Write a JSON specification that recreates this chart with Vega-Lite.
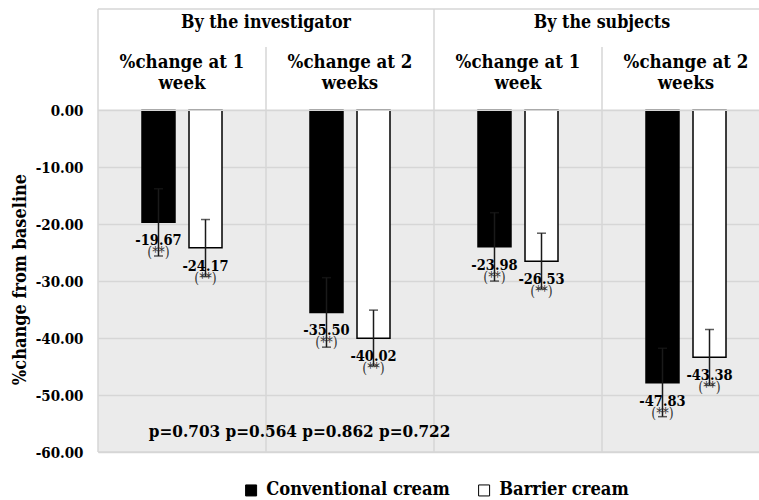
{
  "$schema": "https://vega.github.io/schema/vega-lite/v6.json",
  "width": 661,
  "height": 443,
  "autosize": {"type": "none"},
  "padding": {"left": 98, "top": 9, "right": 0, "bottom": 48},
  "config": {
    "view": {"stroke": null, "fill": "#ebebeb"},
    "font": "DejaVu Serif Condensed",
    "locale": {"number": {"decimal": ".", "thousands": ",", "grouping": [3], "currency": ["$", ""], "minus": "-"}}
  },
  "datasets": {
    "bars": [
      {"panel": "Investigator, 1 week", "cream": "Conventional cream", "value": -19.67, "lo": -25.6, "hi": -13.8, "sig": "(**)"},
      {"panel": "Investigator, 1 week", "cream": "Barrier cream", "value": -24.17, "lo": -29.2, "hi": -19.2, "sig": "(**)"},
      {"panel": "Investigator, 2 weeks", "cream": "Conventional cream", "value": -35.50, "lo": -41.6, "hi": -29.4, "sig": "(**)"},
      {"panel": "Investigator, 2 weeks", "cream": "Barrier cream", "value": -40.02, "lo": -44.9, "hi": -35.1, "sig": "(**)"},
      {"panel": "Subjects, 1 week", "cream": "Conventional cream", "value": -23.98, "lo": -30.0, "hi": -18.0, "sig": "(**)"},
      {"panel": "Subjects, 1 week", "cream": "Barrier cream", "value": -26.53, "lo": -31.4, "hi": -21.6, "sig": "(**)"},
      {"panel": "Subjects, 2 weeks", "cream": "Conventional cream", "value": -47.83, "lo": -53.8, "hi": -41.8, "sig": "(**)"},
      {"panel": "Subjects, 2 weeks", "cream": "Barrier cream", "value": -43.38, "lo": -48.3, "hi": -38.5, "sig": "(**)"}
    ],
    "panels": [
      {"panel": "Investigator, 1 week", "header": "%change at 1\nweek"},
      {"panel": "Investigator, 2 weeks", "header": "%change at 2\nweeks"},
      {"panel": "Subjects, 1 week", "header": "%change at 1\nweek"},
      {"panel": "Subjects, 2 weeks", "header": "%change at 2\nweeks"}
    ],
    "raters": [
      {"panel": "Investigator, 1 week", "rater": "By the investigator"},
      {"panel": "Subjects, 1 week", "rater": "By the subjects"}
    ],
    "notes": [
      {"panel": "Investigator, 2 weeks", "note": "p=0.703 p=0.564 p=0.862 p=0.722"}
    ]
  },
  "data": {"name": "bars"},
  "layer": [
    {
      "data": {"values": [{}]},
      "mark": {"type": "rect", "fill": "#ffffff"},
      "encoding": {
        "y": {"datum": 0, "type": "quantitative", "title": "%change from baseline",
          "scale": {"domain": [-60, 17.75], "nice": false, "zero": false},
          "axis": {"values": [-60, -50, -40, -30, -20, -10, 0], "format": ".2f", "domain": false, "ticks": false,
            "labelFont": "DejaVu Serif Condensed", "labelFontSize": 15, "labelFontWeight": "bold", "labelColor": "#000000", "labelPadding": 15,
            "grid": true, "gridColor": "#d6d6d6", "gridWidth": 1.5,
            "titleFont": "DejaVu Serif Condensed", "titleFontSize": 18, "titleFontWeight": "bold", "titleColor": "#000000",
            "titleX": -78, "titleY": 270, "titleAlign": "center", "titleBaseline": "middle", "titleAngle": -90}},
        "y2": {"datum": 17.75}
      }
    },
    {
      "mark": {"type": "bar", "stroke": "#000000", "strokeWidth": 1.5},
      "encoding": {
        "x": {"field": "panel", "type": "nominal", "axis": null, "sort": null,
          "scale": {"domain": ["Investigator, 1 week", "Investigator, 2 weeks", "Subjects, 1 week", "Subjects, 2 weeks"], "range": [0, 672], "paddingInner": 0, "paddingOuter": 0}},
        "xOffset": {"field": "cream", "type": "nominal",
          "scale": {"domain": ["Conventional cream", "Barrier cream"], "paddingInner": 0.298, "paddingOuter": 0.936}},
        "y": {"field": "value", "type": "quantitative", "title": "%change from baseline"},
        "color": {"field": "cream", "type": "nominal",
          "scale": {"domain": ["Conventional cream", "Barrier cream"], "range": ["#000000", "#ffffff"]},
          "legend": {"orient": "none", "legendX": 144, "legendY": 472, "direction": "horizontal", "title": null,
            "symbolType": "square", "symbolSize": 121, "symbolStrokeColor": "#000000", "symbolStrokeWidth": 1, "symbolOpacity": 1,
            "labelFont": "DejaVu Serif Condensed", "labelFontSize": 18.2, "labelFontWeight": "bold", "labelColor": "#000000",
            "labelLimit": 400, "columnPadding": 25, "labelOffset": 6, "padding": 0}}
      }
    },
    {
      "mark": {"type": "rule", "color": "#1a1a1a", "strokeWidth": 1.5},
      "encoding": {
        "x": {"field": "panel", "type": "nominal"},
        "xOffset": {"field": "cream", "type": "nominal"},
        "y": {"field": "lo", "type": "quantitative", "title": "%change from baseline"},
        "y2": {"field": "hi"}
      }
    },
    {
      "mark": {"type": "tick", "color": "#1a1a1a", "size": 9, "thickness": 1.5},
      "encoding": {
        "x": {"field": "panel", "type": "nominal"},
        "xOffset": {"field": "cream", "type": "nominal"},
        "y": {"field": "lo", "type": "quantitative", "title": "%change from baseline"}
      }
    },
    {
      "mark": {"type": "tick", "color": "#1a1a1a", "size": 9, "thickness": 1.5},
      "encoding": {
        "x": {"field": "panel", "type": "nominal"},
        "xOffset": {"field": "cream", "type": "nominal"},
        "y": {"field": "hi", "type": "quantitative", "title": "%change from baseline"}
      }
    },
    {
      "mark": {"type": "text", "font": "DejaVu Serif Condensed", "fontSize": 14.5, "fontWeight": "bold", "color": "#000000", "baseline": "middle", "dy": 19},
      "encoding": {
        "x": {"field": "panel", "type": "nominal"},
        "xOffset": {"field": "cream", "type": "nominal"},
        "y": {"field": "value", "type": "quantitative", "title": "%change from baseline"},
        "text": {"field": "value", "type": "quantitative", "format": ".2f"}
      }
    },
    {
      "mark": {"type": "text", "font": "DejaVu Serif Condensed", "fontSize": 14, "color": "#333333", "baseline": "middle", "dy": 31},
      "encoding": {
        "x": {"field": "panel", "type": "nominal"},
        "xOffset": {"field": "cream", "type": "nominal"},
        "y": {"field": "value", "type": "quantitative", "title": "%change from baseline"},
        "text": {"field": "sig", "type": "nominal"}
      }
    },
    {
      "data": {"name": "raters"},
      "mark": {"type": "rule", "color": "#d6d6d6", "strokeWidth": 1.5},
      "encoding": {
        "x": {"field": "panel", "type": "nominal", "bandPosition": 1},
        "y": {"datum": -60, "type": "quantitative", "title": "%change from baseline"},
        "y2": {"datum": 11.06}
      }
    },
    {
      "data": {"name": "raters"},
      "mark": {"type": "rule", "color": "#d6d6d6", "strokeWidth": 1.5},
      "encoding": {
        "x": {"field": "panel", "type": "nominal", "bandPosition": 0},
        "y": {"datum": -60, "type": "quantitative", "title": "%change from baseline"},
        "y2": {"datum": 17.75}
      }
    },
    {
      "data": {"values": [{}]},
      "mark": {"type": "rule", "color": "#d6d6d6", "strokeWidth": 1.5},
      "encoding": {"y": {"datum": 17.75, "type": "quantitative", "title": "%change from baseline"}}
    },
    {
      "data": {"values": [{}]},
      "mark": {"type": "rule", "color": "#d6d6d6", "strokeWidth": 1.5},
      "encoding": {"y": {"datum": 0, "type": "quantitative", "title": "%change from baseline"}}
    },
    {
      "data": {"values": [{}]},
      "mark": {"type": "rule", "color": "#d6d6d6", "strokeWidth": 1.5},
      "encoding": {"y": {"datum": -60, "type": "quantitative", "title": "%change from baseline"}}
    },
    {
      "data": {"name": "raters"},
      "mark": {"type": "text", "font": "DejaVu Serif Condensed", "fontSize": 17.7, "fontWeight": "bold", "color": "#000000", "baseline": "middle"},
      "encoding": {
        "x": {"field": "panel", "type": "nominal", "bandPosition": 1},
        "y": {"datum": 15.3, "type": "quantitative", "title": "%change from baseline"},
        "text": {"field": "rater", "type": "nominal"}
      }
    },
    {
      "data": {"name": "panels"},
      "mark": {"type": "text", "font": "DejaVu Serif Condensed", "fontSize": 18.5, "fontWeight": "bold", "color": "#000000", "baseline": "middle", "lineBreak": "\n", "lineHeight": 20.5},
      "encoding": {
        "x": {"field": "panel", "type": "nominal", "bandPosition": 0.5},
        "y": {"datum": 8.42, "type": "quantitative", "title": "%change from baseline"},
        "text": {"field": "header", "type": "nominal"}
      }
    },
    {
      "data": {"name": "notes"},
      "mark": {"type": "text", "font": "DejaVu Serif Condensed", "fontSize": 17, "fontWeight": "bold", "color": "#000000", "baseline": "middle"},
      "encoding": {
        "x": {"field": "panel", "type": "nominal", "bandPosition": 0.2},
        "y": {"datum": -56.5, "type": "quantitative", "title": "%change from baseline"},
        "text": {"field": "note", "type": "nominal"}
      }
    }
  ]
}
